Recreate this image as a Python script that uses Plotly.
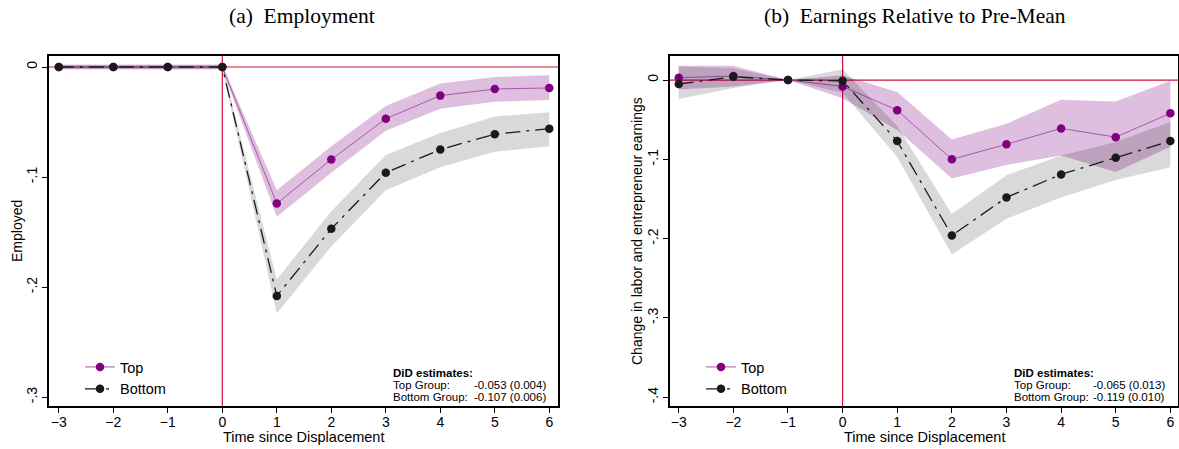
import plotly.graph_objects as go

W, H = 1179, 449

# ---------------- data ----------------
t = [-3, -2, -1, 0, 1, 2, 3, 4, 5, 6]

# Panel (a) Employment
emp_top = [0, 0, 0, 0, -0.124, -0.084, -0.047, -0.026, -0.020, -0.019]
emp_top_lo = [-0.002, -0.002, -0.002, -0.002, -0.136, -0.096, -0.058, -0.038, -0.0315, -0.030]
emp_top_hi = [0.002, 0.002, 0.002, 0.002, -0.112, -0.072, -0.0355, -0.015, -0.009, -0.0075]
emp_bot = [0, 0, 0, 0, -0.208, -0.147, -0.096, -0.075, -0.061, -0.056]
emp_bot_lo = [-0.002, -0.002, -0.002, -0.002, -0.224, -0.163, -0.112, -0.091, -0.077, -0.072]
emp_bot_hi = [0.002, 0.002, 0.002, 0.002, -0.193, -0.131, -0.080, -0.060, -0.045, -0.041]

# Panel (b) Earnings relative to pre-mean
ern_top = [0.003, 0.005, 0, -0.008, -0.038, -0.100, -0.081, -0.061, -0.072, -0.042]
ern_top_lo = [-0.012, -0.008, 0, -0.023, -0.063, -0.124, -0.107, -0.095, -0.116, -0.084]
ern_top_hi = [0.018, 0.018, 0, 0.006, -0.015, -0.075, -0.055, -0.025, -0.027, -0.001]
ern_bot = [-0.005, 0.004, 0, -0.001, -0.077, -0.196, -0.148, -0.119, -0.098, -0.077]
ern_bot_lo = [-0.024, -0.010, 0, -0.016, -0.097, -0.220, -0.175, -0.148, -0.126, -0.110]
ern_bot_hi = [0.017, 0.015, 0, 0.0135, -0.058, -0.169, -0.120, -0.095, -0.078, -0.053]

x_ticks = [-3, -2, -1, 0, 1, 2, 3, 4, 5, 6]
y_ticks_a = [0, -0.1, -0.2, -0.3]
y_text_a = ["0", "-.1", "-.2", "-.3"]
y_ticks_b = [0, -0.1, -0.2, -0.3, -0.4]
y_text_b = ["0", "-.1", "-.2", "-.3", "-.4"]

titles = ["(a)  Employment", "(b)  Earnings Relative to Pre-Mean"]
y_titles = ["Employed", "Change in labor and entrepreneur earnings"]
x_title = "Time since Displacement"
series_names = ["Top", "Bottom"]
did_head = "DiD estimates:"
did_labels = ["Top Group:", "Bottom Group:"]
did_a = ["-0.053 (0.004)", "-0.107 (0.006)"]
did_b = ["-0.065 (0.013)", "-0.119 (0.010)"]

# ---------------- styles ----------------
PURPLE = "#800080"
PURPLE_LINE = "#a658a6"
PURPLE_BAND = "rgba(128,0,128,0.25)"
BLACK = "#1a1a1a"
GRAY_BAND = "rgba(0,0,0,0.15)"
RED = "#d0103a"
SANS = "Liberation Sans, Arial, sans-serif"
SERIF = "Liberation Serif, Times New Roman, serif"


def px_x(p):
    return p / W


def px_y(p):
    return 1 - p / H


fig = go.Figure()

panels = [
    dict(xa="x", ya="y", data=(emp_top, emp_top_lo, emp_top_hi, emp_bot, emp_bot_lo, emp_bot_hi), legend="legend"),
    dict(xa="x2", ya="y2", data=(ern_top, ern_top_lo, ern_top_hi, ern_bot, ern_bot_lo, ern_bot_hi), legend="legend2"),
]

for i, p in enumerate(panels):
    top, top_lo, top_hi, bot, bot_lo, bot_hi = p["data"]
    fig.add_trace(go.Scatter(x=t + t[::-1], y=top_hi + top_lo[::-1], fill="toself",
                             fillcolor=PURPLE_BAND, line=dict(width=0), mode="lines",
                             hoverinfo="skip", showlegend=False, xaxis=p["xa"], yaxis=p["ya"]))
    fig.add_trace(go.Scatter(x=t, y=top, mode="lines+markers", name=series_names[0],
                             line=dict(color=PURPLE_LINE, width=1),
                             marker=dict(color=PURPLE, size=8.5),
                             legend=p["legend"], xaxis=p["xa"], yaxis=p["ya"]))
    fig.add_trace(go.Scatter(x=t + t[::-1], y=bot_hi + bot_lo[::-1], fill="toself",
                             fillcolor=GRAY_BAND, line=dict(width=0), mode="lines",
                             hoverinfo="skip", showlegend=False, xaxis=p["xa"], yaxis=p["ya"]))
    fig.add_trace(go.Scatter(x=t, y=bot, mode="lines+markers", name=series_names[1],
                             line=dict(color=BLACK, width=1.3, dash="longdashdot"),
                             marker=dict(color=BLACK, size=8.5),
                             legend=p["legend"], xaxis=p["xa"], yaxis=p["ya"]))

axis_common = dict(showgrid=False, zeroline=False, showline=True, linecolor="black",
                   linewidth=1.5, mirror=True, ticks="outside", ticklen=5, tickwidth=1.2,
                   tickcolor="black", tickfont=dict(family=SANS, size=14, color="black"))

y_top, y_bot = 56, 406
leg_font = dict(family=SANS, size=14.5, color="black")
fig.update_layout(
    width=W, height=H, margin=dict(l=0, r=0, t=0, b=0), autosize=False,
    paper_bgcolor="white", plot_bgcolor="white",
    xaxis=dict(domain=[px_x(49), px_x(558)], range=[-3.18, 6.16], tickvals=x_ticks,
               anchor="y", ticklabelstandoff=-3, **axis_common),
    yaxis=dict(domain=[px_y(y_bot), px_y(y_top)], range=[-0.308, 0.010], tickvals=y_ticks_a,
               ticktext=y_text_a, tickangle=-90, anchor="x", **axis_common),
    xaxis2=dict(domain=[px_x(670), px_x(1178)], range=[-3.16, 6.14], tickvals=x_ticks,
                anchor="y2", ticklabelstandoff=-3, **axis_common),
    yaxis2=dict(domain=[px_y(y_bot), px_y(y_top)], range=[-0.411, 0.0303], tickvals=y_ticks_b,
                ticktext=y_text_b, tickangle=-90, anchor="x2", **axis_common),
    legend=dict(x=px_x(80), y=px_y(351), xanchor="left", yanchor="top",
                bgcolor="rgba(0,0,0,0)", font=leg_font, tracegroupgap=0),
    legend2=dict(x=px_x(701), y=px_y(351), xanchor="left", yanchor="top",
                 bgcolor="rgba(0,0,0,0)", font=leg_font, tracegroupgap=0),
    showlegend=True,
)

for xa, ya in [("x", "y"), ("x2", "y2")]:
    fig.add_shape(type="line", xref=xa, yref=f"{ya} domain", x0=0, x1=0, y0=0, y1=1,
                  line=dict(color=RED, width=1.2), layer="below")
    fig.add_shape(type="line", xref=f"{xa} domain", yref=ya, x0=0, x1=1, y0=0, y1=0,
                  line=dict(color=RED, width=1.2), layer="below")

ann = []
common = dict(xref="paper", yref="paper", showarrow=False, xanchor="center", yanchor="middle")
ann.append(dict(text=titles[0], x=px_x(302), y=px_y(16), font=dict(family=SERIF, size=21.5, color="black"), **common))
ann.append(dict(text=titles[1], x=px_x(915), y=px_y(16), font=dict(family=SERIF, size=21.5, color="black"), **common))
for cx in (303, 924):
    ann.append(dict(text=x_title, x=px_x(cx), y=px_y(437), font=dict(family=SANS, size=14.5, color="black"), **common))
ann.append(dict(text=y_titles[0], x=px_x(17), y=px_y(231), textangle=-90,
                font=dict(family=SANS, size=14, color="black"), **common))
ann.append(dict(text=y_titles[1], x=px_x(637), y=px_y(231), textangle=-90,
                font=dict(family=SANS, size=14, color="black"), **common))

small = dict(family=SANS, size=11.5, color="black")
for lx, rx, vals in [(391, 548, did_a), (1012, 1167, did_b)]:
    ann.append(dict(text=f"<b>{did_head}</b>", x=px_x(lx), y=px_y(373), xref="paper", yref="paper",
                    xanchor="left", yanchor="middle", showarrow=False, font=small))
    for k, yy in enumerate([385, 397]):
        ann.append(dict(text=did_labels[k], x=px_x(lx), y=px_y(yy), xref="paper", yref="paper",
                        xanchor="left", yanchor="middle", showarrow=False, font=small))
        ann.append(dict(text=vals[k], x=px_x(rx), y=px_y(yy), xref="paper", yref="paper",
                        xanchor="right", yanchor="middle", showarrow=False, font=small))

fig.update_layout(annotations=ann)

# remove the browser's default page margin so the figure sits at the window's top-left corner
page_fix = ("document.documentElement.style.overflow='hidden';"
            "document.body.style.margin='0';document.body.style.overflow='hidden';")
fig.write_html("out.html", post_script=page_fix, config={"displayModeBar": False})
